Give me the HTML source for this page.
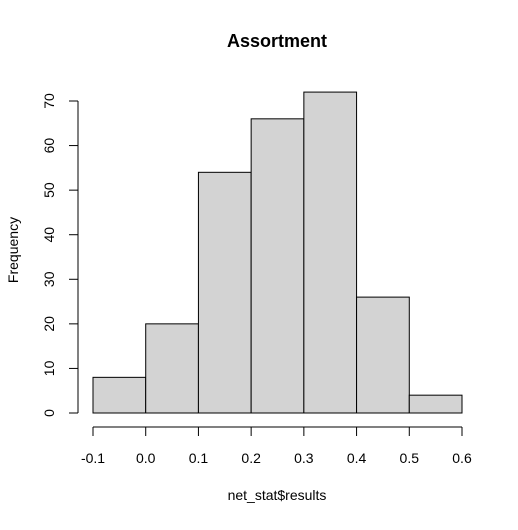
<!DOCTYPE html>
<html><head><meta charset="utf-8"><style>
body{margin:0;background:#fff;}
text{font-family:"Liberation Sans",Arial,sans-serif;fill:#000;}
</style></head><body>
<svg id="chart" width="518" height="525" xmlns="http://www.w3.org/2000/svg">
<rect width="518" height="525" fill="#fff"/>
<text x="277" y="47" text-anchor="middle" font-size="18" font-weight="bold">Assortment</text>
<text x="277" y="500" text-anchor="middle" font-size="14">net_stat$results</text>
<text transform="translate(18,250) rotate(-90)" text-anchor="middle" font-size="14">Frequency</text>
<g id="bars"></g><g id="xaxis"></g><g id="yaxis"></g>
</svg>
<script>
const breaks = [-0.1, 0.0, 0.1, 0.2, 0.3, 0.4, 0.5, 0.6];
const counts = [8, 20, 54, 66, 72, 26, 4];
const xTicks = ["-0.1","0.0","0.1","0.2","0.3","0.4","0.5","0.6"];
const yTicks = [0, 10, 20, 30, 40, 50, 60, 70];
const NS = "http://www.w3.org/2000/svg";
const xs = v => 93 + (v + 0.1) / 0.7 * (462 - 93);
const ys = v => 413 - v / 70 * (413 - 101);
function mk(tag, attrs, parent){const e=document.createElementNS(NS,tag);for(const k in attrs)e.setAttribute(k,attrs[k]);parent.appendChild(e);return e;}
const bars=document.getElementById('bars');
counts.forEach((c,i)=>{
  const r=mk('rect',{x:xs(breaks[i]),y:ys(c),width:xs(breaks[i+1])-xs(breaks[i]),height:ys(0)-ys(c),fill:'#d3d3d3',stroke:'#000','stroke-width':1},bars);
  
  
});
const xa=document.getElementById('xaxis');


mk('line',{x1:xs(breaks[0]),x2:xs(breaks[breaks.length-1]),y1:427,y2:427,stroke:'#000'},xa);
xTicks.forEach((t,i)=>{
  const x=xs(breaks[i]);
  mk('line',{x1:x,x2:x,y1:427,y2:436,stroke:'#000'},xa);
  const tx=mk('text',{x:x,y:463,'text-anchor':'middle','font-size':14},xa);
  tx.textContent=t;
  
  
});
const ya=document.getElementById('yaxis');


mk('line',{x1:78,x2:78,y1:ys(0),y2:ys(70),stroke:'#000'},ya);
yTicks.forEach(v=>{
  const y=ys(v);
  mk('line',{x1:69,x2:78,y1:y,y2:y,stroke:'#000'},ya);
  const tx=mk('text',{transform:`translate(54,${y}) rotate(-90)`,'text-anchor':'middle','font-size':14},ya);
  tx.textContent=v;
  
  
});
</script>
</body></html>
